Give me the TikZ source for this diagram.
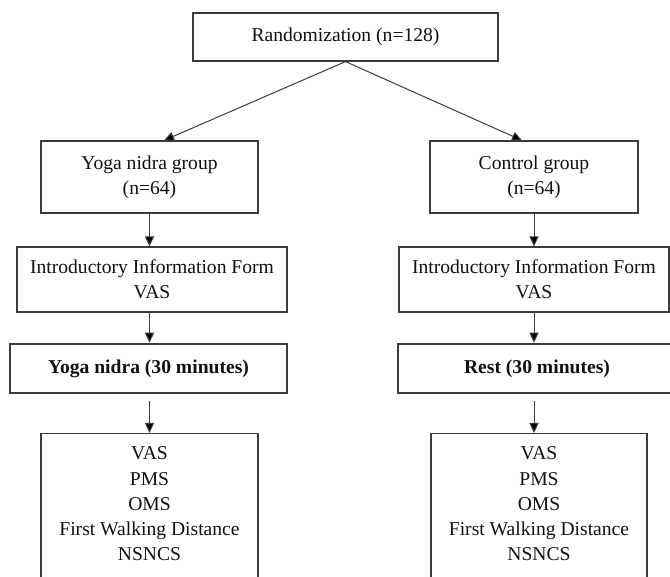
\documentclass[tikz,border=0pt]{standalone}
\usepackage{fontspec}
\setmainfont{Liberation Serif}
\usetikzlibrary{arrows.meta,calc}
\definecolor{ln}{HTML}{3C3C3C}
\definecolor{tx}{HTML}{111111}
\begin{document}
\begin{tikzpicture}[x=1pt,y=-1pt,
  txt/.style={inner sep=0pt, align=center, text=tx, font=\fontsize{19.6}{25.3}\selectfont},
  box/.style={txt, draw=ln, line width=1.2pt},
  boldbox/.style={box, line width=2.5pt, font=\fontsize{19.6}{25.3}\selectfont\bfseries},
  arr/.style={draw=ln, line width=1pt, -{Triangle[length=10pt,width=9pt,fill=black]}}]
\useasboundingbox (0,0) rectangle (670,577);
\clip (0,0) rectangle (670,577);
\fill[white] (0,0) rectangle (670,577);

\node[box, minimum width=305pt, minimum height=48pt] (rand) at (345.5,37) {Randomization (n=128)};

\node[box, minimum width=217pt, minimum height=72pt] (yg) at (149.5,177) {Yoga nidra group\\(n=64)};
\node[box, minimum width=208pt, minimum height=72pt] (cg) at (534,177) {Control group\\(n=64)};

\node[box, minimum width=270pt, minimum height=65pt] (iL) at (152,279.5) {Introductory Information Form\\VAS};
\node[box, minimum width=270pt, minimum height=65pt] (iR) at (534,279.5) {Introductory Information Form\\VAS};

\node[boldbox, minimum width=277pt, minimum height=49pt] (yn) at (148.5,368.5) {Yoga nidra (30 minutes)};
\node[boldbox, minimum width=278pt, minimum height=49pt] (rs) at (537,368.5) {Rest (30 minutes)};

\node[box, minimum width=217pt, minimum height=180pt, anchor=north] (oL) at (149.5,433) {};
\node[box, minimum width=216pt, minimum height=180pt, anchor=north] (oR) at (539,433) {};
\node[txt] (oLt) at (149.5,504) {VAS\\PMS\\OMS\\First Walking Distance\\NSNCS};
\node[txt] (oRt) at (539,504) {VAS\\PMS\\OMS\\First Walking Distance\\NSNCS};

\draw[arr] (rand.south) -- ([xshift=14.5pt]yg.north);
\draw[arr] (rand.south) -- ([xshift=-12pt]cg.north);

\draw[arr] (yg.south) -- (yg.south |- iL.north);
\draw[arr] (cg.south) -- (cg.south |- iR.north);

\draw[arr] (yg.south |- iL.south) -- (yg.south |- yn.north);
\draw[arr] (cg.south |- iR.south) -- (cg.south |- rs.north);

\draw[arr] ($(yg.south |- yn.south)+(0,7)$) -- (yg.south |- oL.north);
\draw[arr] ($(cg.south |- rs.south)+(0,7)$) -- (cg.south |- oR.north);
\end{tikzpicture}
\end{document}
